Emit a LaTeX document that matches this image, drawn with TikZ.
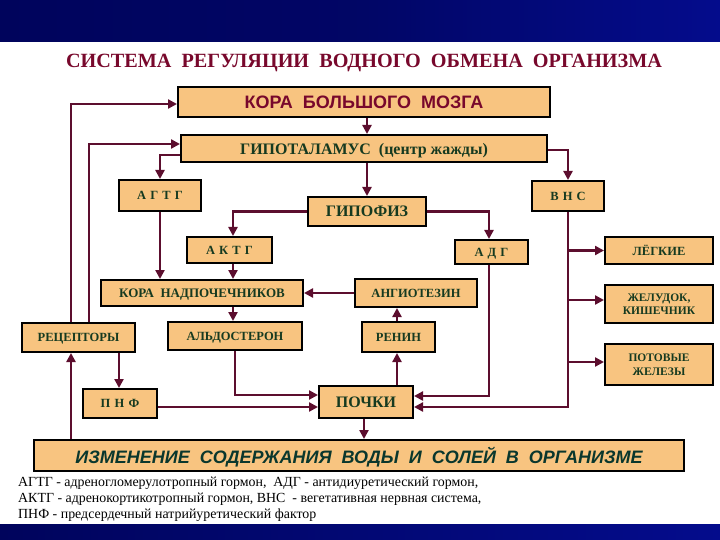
\documentclass[tikz,border=0pt]{standalone}
\usepackage{fontspec}
\setmainfont{Liberation Serif}
\newfontfamily\lsans{Liberation Sans}
\usetikzlibrary{arrows.meta}
\definecolor{boxfill}{RGB}{248,196,128}
\definecolor{txtgreen}{RGB}{22,58,32}
\definecolor{izmgreen}{RGB}{10,55,45}
\definecolor{crimson}{RGB}{120,8,44}
\definecolor{linec}{RGB}{92,14,46}
\definecolor{bandA}{RGB}{0,4,92}
\definecolor{bandB}{RGB}{4,12,140}
\newcommand{\fs}[1]{\fontsize{#1}{#1}\selectfont}
\tikzset{
  boxbase/.style={draw=black, line width=2pt, fill=boxfill, inner sep=0pt,
    text=txtgreen, font=\bfseries\fs{12.5}},
  box/.style={boxbase, text depth=0pt},
  mbox/.style={boxbase, align=center},
  conn/.style={draw=linec, line width=2.6pt, -{Triangle[length=9pt,width=9pt]}},
}
\begin{document}
\begin{tikzpicture}[x=1pt,y=-1pt]
\useasboundingbox (0,0) rectangle (720,540);
% bands
\shade[left color=bandA, right color=bandB, middle color=bandA!80!bandB] (0,0) rectangle (720,42);
\shade[left color=bandA, right color=bandB] (0,524) rectangle (720,540);
% title
\node[text=crimson, font=\bfseries\fs{20.2}] (title) at (364,63) {СИСТЕМА\ \ РЕГУЛЯЦИИ\ \ ВОДНОГО\ \ ОБМЕНА\ \ ОРГАНИЗМА};
% boxes
\node[box, minimum width=372, minimum height=30, text=crimson, font=\lsans\bfseries\fs{18}] (kora) at (364,102) {КОРА\ \ БОЛЬШОГО\ \ МОЗГА};
\node[box, minimum width=366, minimum height=27, font=\bfseries\fs{16}] (gipot) at (364,148.5) {ГИПОТАЛАМУС\ \ (центр\ жажды)};
\node[box, minimum width=82, minimum height=31] (agtg) at (160,195.5) {А\,\,Г\,\,Т\,\,Г};
\node[box, minimum width=118, minimum height=29, font=\bfseries\fs{16}] (gipof) at (367,211.5) {ГИПОФИЗ};
\node[box, minimum width=72, minimum height=30] (vns) at (568,196) {В\,\,Н\,\,С};
\node[box, minimum width=85, minimum height=26] (aktg) at (229.5,250) {А\,\,К\,\,Т\,\,Г};
\node[box, minimum width=73, minimum height=24] (adg) at (491.5,252) {А\,\,Д\,\,Г};
\node[box, minimum width=108, minimum height=27, font=\bfseries\fs{12.5}] (lung) at (659,250.5) {ЛЁГКИЕ};
\node[box, minimum width=202, minimum height=26, font=\bfseries\fs{13}] (nadp) at (202,293) {КОРА\ \ НАДПОЧЕЧНИКОВ};
\node[box, minimum width=122, minimum height=28] (angio) at (416,293) {АНГИОТЕЗИН};
\node[mbox, minimum width=108, minimum height=38, font=\bfseries\fs{11.5}] (stom) at (659,304) {ЖЕЛУДОК,\\[1pt]КИШЕЧНИК};
\node[box, minimum width=113, minimum height=29] (rec) at (78.5,337.5) {РЕЦЕПТОРЫ};
\node[box, minimum width=134, minimum height=28] (aldo) at (235,336) {АЛЬДОСТЕРОН};
\node[box, minimum width=73, minimum height=30] (renin) at (398.5,337) {РЕНИН};
\node[mbox, minimum width=108, minimum height=41, font=\bfseries\fs{11.5}] (pot) at (659,364.5) {ПОТОВЫЕ\\[3pt]ЖЕЛЕЗЫ};
\node[box, minimum width=74, minimum height=29] (pnf) at (120,403.5) {П\,\,Н\,\,Ф};
\node[box, minimum width=94, minimum height=32, font=\bfseries\fs{16}] (kid) at (366,402) {ПОЧКИ};
\node[box, minimum width=650, minimum height=31, text=izmgreen, font=\lsans\bfseries\itshape\fs{18}] (izm) at (359,455.5) {ИЗМЕНЕНИЕ\ \ СОДЕРЖАНИЯ\ \ ВОДЫ\ \ И\ \ СОЛЕЙ\ \ В\ \ ОРГАНИЗМЕ};
% footnote
\node[anchor=west, align=left, font=\fontsize{13.9}{16}\selectfont, inner sep=0pt] (note) at (18,499) {АГТГ - адреногломерулотропный гормон,\ \ АДГ - антидиуретический гормон,\\АКТГ - адренокортикотропный гормон, ВНС\ \ - вегетативная нервная система,\\ПНФ - предсердечный натрийуретический фактор};
% helper coordinates
\coordinate (xa) at (71,0);
\coordinate (xb) at (89,0);
\coordinate (xd) at (233,0);
\coordinate (xe) at (367,0);
\coordinate (xf) at (489,0);
\coordinate (xh) at (119,0);
\coordinate (xi) at (397,0);
\coordinate (xj) at (364,0);
\coordinate (xk) at (235,0);
\coordinate (y104) at (0,104);
\coordinate (y144) at (0,144);
\coordinate (y150) at (0,150);
\coordinate (y155) at (0,155);
\coordinate (y300) at (0,300);
\coordinate (y362) at (0,362);
\coordinate (y395) at (0,395);
\coordinate (y396) at (0,396);
\coordinate (y407) at (0,407);
% connectors
\draw[conn] (xa |- izm.north) -- (xa |- rec.south);
\draw[conn] (xa |- rec.north) |- (kora.west |- y104);
\draw[conn] (xb |- rec.north) |- (gipot.west |- y144);
\draw[conn] (xe |- kora.south) -- (xe |- gipot.north);
\draw[conn] (gipot.west |- y155) -| (agtg.north);
\draw[conn] (agtg.south) -- (agtg.south |- nadp.north);
\draw[conn] (xe |- gipot.south) -- (xe |- gipof.north);
\draw[conn] (gipot.east |- y150) -| (vns.north);
\draw[conn] (gipof.west) -| (xd |- aktg.north);
\draw[conn] (gipof.east) -| (xf |- adg.north);
\draw[conn] (xd |- aktg.south) -- (xd |- nadp.north);
\draw[conn] (angio.west) -- (nadp.east);
\draw[conn] (xd |- nadp.south) -- (xd |- aldo.north);
\draw[conn] (xk |- aldo.south) |- (kid.west |- y395);
\draw[conn] (pnf.east |- y407) -- (kid.west |- y407);
\draw[conn] (xh |- rec.south) -- (xh |- pnf.north);
\draw[conn] (xi |- kid.north) -- (xi |- renin.south);
\draw[conn] (xi |- renin.north) -- (xi |- angio.south);
\draw[conn] (xf |- adg.south) |- (kid.east |- y396);
\draw[conn] (vns.south) |- (kid.east |- y407);
\draw[conn] (vns.south |- lung.west) -- (lung.west);
\draw[conn] (vns.south |- y300) -- (stom.west |- y300);
\draw[conn] (vns.south |- y362) -- (pot.west |- y362);
\draw[conn] (xj |- kid.south) -- (xj |- izm.north);
\end{tikzpicture}
\end{document}
